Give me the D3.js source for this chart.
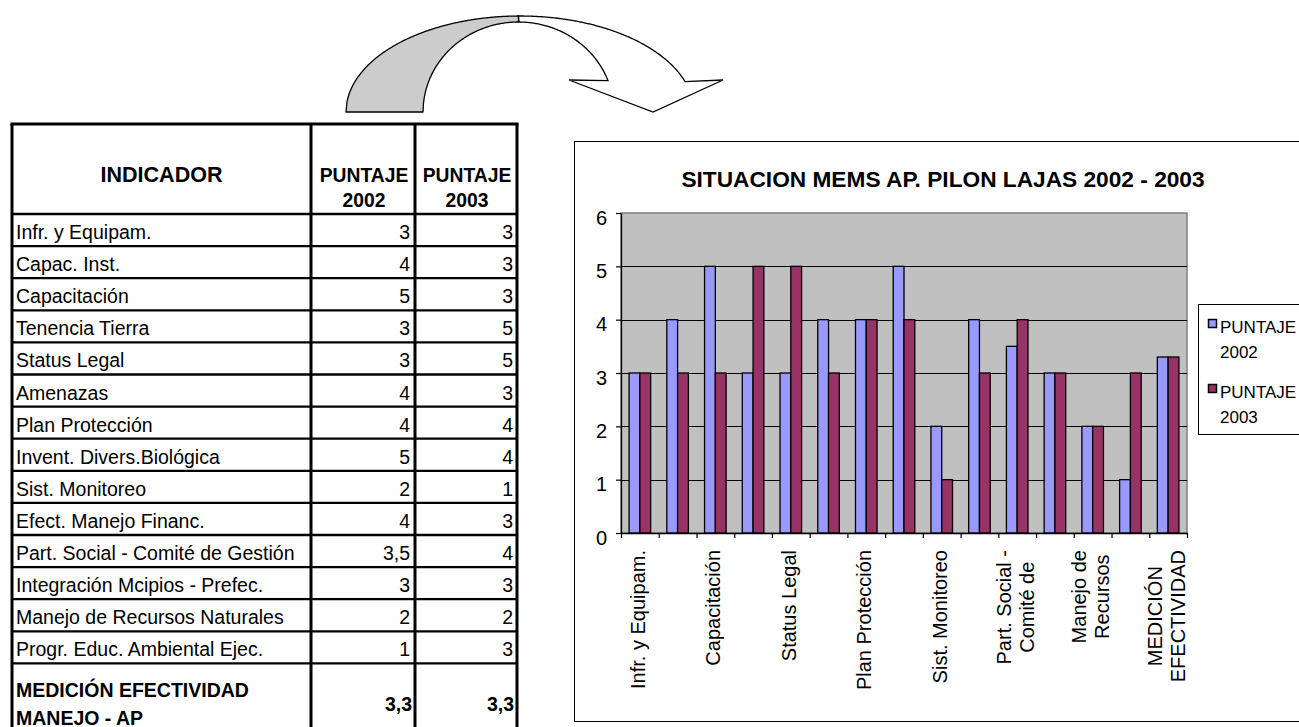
<!DOCTYPE html>
<html>
<head>
<meta charset="utf-8">
<script src="https://cdn.jsdelivr.net/npm/d3@7"></script>
<style>
  html, body { margin: 0; padding: 0; background: #ffffff; }
  svg { display: block; font-family: "Liberation Sans", Arial, sans-serif; }
</style>
</head>
<body>
<svg id="chart" width="1299" height="727"></svg>
<script>
// ---------------- DATA ----------------
const categories = [
  "Infr. y Equipam.",
  "Capac. Inst.",
  "Capacitación",
  "Tenencia Tierra",
  "Status Legal",
  "Amenazas",
  "Plan Protección",
  "Invent. Divers.Biológica",
  "Sist. Monitoreo",
  "Efect. Manejo Financ.",
  "Part. Social - Comité de Gestión",
  "Integración Mcipios - Prefec.",
  "Manejo de Recursos Naturales",
  "Progr. Educ. Ambiental Ejec.",
  "MEDICIÓN EFECTIVIDAD MANEJO - AP"
];
const values2002 = [3, 4, 5, 3, 3, 4, 4, 5, 2, 4, 3.5, 3, 2, 1, 3.3];
const values2003 = [3, 3, 3, 5, 5, 3, 4, 4, 1, 3, 4, 3, 2, 3, 3.3];
const seriesNames = ["PUNTAJE 2002", "PUNTAJE 2003"];
const legendLines = [["PUNTAJE", "2002"], ["PUNTAJE", "2003"]];
const yTicks = [0, 1, 2, 3, 4, 5, 6];
// category axis labels as Excel shows them (every other category, wrapped/cut)
const tickLabels = [
  ["Infr. y Equipam."], [], ["Capacitación"], [], ["Status Legal"], [],
  ["Plan Protección"], [], ["Sist. Monitoreo"], [], ["Part. Social -", "Comité de"], [],
  ["Manejo de", "Recursos"], [], ["MEDICIÓN", "EFECTIVIDAD"]
];
const tableHeader = ["INDICADOR", ["PUNTAJE", "2002"], ["PUNTAJE", "2003"]];
const summaryLines = ["MEDICIÓN EFECTIVIDAD", "MANEJO - AP"];
const chartTitle = "SITUACION MEMS AP. PILON LAJAS 2002 - 2003";

// ---------------- SETUP ----------------
const svg = d3.select("#chart");
const FONT = '"Liberation Sans", Arial, sans-serif';
const fmt = v => String(v).replace(".", ",");

// ---------------- CURVED ARROW ----------------
(function drawArrow() {
  const outer = {cx: 520, cy: 112, rx: 174, ry: 96};
  const inner = {cx: 518.5, cy: 112, rx: 95.5, ry: 90};
  const ptOuter = x => [x, outer.cy - outer.ry * Math.sqrt(Math.max(0, 1 - ((x - outer.cx) / outer.rx) ** 2))];
  const ptInner = x => [x, inner.cy - inner.ry * Math.sqrt(Math.max(0, 1 - ((x - inner.cx) / inner.rx) ** 2))];
  const split = 518.5;
  const g = [];
  for (let x = outer.cx - outer.rx; x <= split; x += 1) g.push(ptOuter(x));
  g.push(ptOuter(split));
  for (let x = split; x >= inner.cx - inner.rx; x -= 1) g.push(ptInner(x));
  g.push([inner.cx - inner.rx, inner.cy]);
  svg.append("path")
    .attr("d", d3.line()(g) + "Z")
    .attr("fill", "#cccccc").attr("stroke", "#000").attr("stroke-width", 1.3)
    .attr("stroke-linejoin", "round");
  const w = [];
  for (let x = split; x <= 685; x += 1) w.push(ptOuter(x));
  w.push(ptOuter(685));
  w.push([723, 80]);
  w.push([653, 112]);
  w.push([569, 80]);
  w.push(ptInner(608));
  for (let x = 608; x >= split; x -= 1) w.push(ptInner(x));
  svg.append("path")
    .attr("d", d3.line()(w) + "Z")
    .attr("fill", "#ffffff").attr("stroke", "#000").attr("stroke-width", 1.3)
    .attr("stroke-linejoin", "miter");
})();

// ---------------- TABLE ----------------
(function drawTable() {
  const L = 12, C1 = 311, C2 = 415, R = 517, TOP = 124, HB = 214, RH = 32.1, BOT = 760;
  const tg = svg.append("g");
  const nRows = categories.length - 1;
  tg.append("text").attr("x", (L + C1) / 2).attr("y", 182)
    .attr("text-anchor", "middle").attr("font-weight", "bold").attr("font-size", 21.5)
    .text(tableHeader[0]);
  [[C1, C2], [C2, R]].forEach((c, i) => {
    const lines = tableHeader[i + 1];
    lines.forEach((t, j) => {
      tg.append("text").attr("x", (c[0] + c[1]) / 2 + 1).attr("y", 182 + j * 25)
        .attr("text-anchor", "middle").attr("font-weight", "bold").attr("font-size", 19.3)
        .text(t);
    });
  });
  for (let i = 0; i < nRows; i++) {
    const y0 = HB + i * RH;
    tg.append("text").attr("x", 16).attr("y", y0 + 25).attr("font-size", 19.5).text(categories[i]);
    tg.append("text").attr("x", C2 - 5).attr("y", y0 + 25).attr("font-size", 19.5)
      .attr("text-anchor", "end").text(fmt(values2002[i]));
    tg.append("text").attr("x", R - 4).attr("y", y0 + 25).attr("font-size", 19.5)
      .attr("text-anchor", "end").text(fmt(values2003[i]));
  }
  const last = categories.length - 1;
  summaryLines.forEach((t, j) => {
    tg.append("text").attr("x", 16).attr("y", 697 + j * 27.5).attr("font-size", 19.5)
      .attr("font-weight", "bold").text(t);
  });
  tg.append("text").attr("x", C2 - 3).attr("y", 711).attr("font-size", 19.5).attr("font-weight", "bold")
    .attr("text-anchor", "end").text(fmt(values2002[last]));
  tg.append("text").attr("x", R - 3).attr("y", 711).attr("font-size", 19.5).attr("font-weight", "bold")
    .attr("text-anchor", "end").text(fmt(values2003[last]));
  for (let i = 0; i <= nRows; i++) {
    const y = HB + i * RH;
    tg.append("line").attr("x1", L).attr("x2", R).attr("y1", y).attr("y2", y)
      .attr("stroke", "#000").attr("stroke-width", 2.3);
  }
  tg.append("line").attr("x1", L - 1.5).attr("x2", R + 1.5).attr("y1", TOP).attr("y2", TOP)
    .attr("stroke", "#000").attr("stroke-width", 3);
  [L, C1, C2, R].forEach(x => {
    tg.append("line").attr("x1", x).attr("x2", x).attr("y1", TOP).attr("y2", BOT)
      .attr("stroke", "#000").attr("stroke-width", 3);
  });
})();

// ---------------- CHART ----------------
const plot = {left: 621, right: 1187, top: 213, bottom: 533};

svg.append("rect").attr("x", 574.5).attr("y", 141.5).attr("width", 800).attr("height", 580)
  .attr("fill", "#fff").attr("stroke", "#000").attr("stroke-width", 1);

svg.append("text").attr("x", 943).attr("y", 187).attr("text-anchor", "middle")
  .attr("font-weight", "bold").attr("font-size", 22.7).text(chartTitle);

const x = d3.scaleBand().domain(categories).range([plot.left, plot.right]).paddingInner(0).paddingOuter(0);
const xSub = d3.scaleBand().domain(seriesNames).range([0, x.bandwidth()]).paddingInner(0).paddingOuter(0.75);
const y = d3.scaleLinear().domain([0, 6]).range([plot.bottom, plot.top]);
const xIdx = d3.scaleLinear().domain([0, categories.length]).range([plot.left, plot.right]);

svg.append("rect").attr("x", plot.left).attr("y", plot.top)
  .attr("width", plot.right - plot.left).attr("height", plot.bottom - plot.top)
  .attr("fill", "#c0c0c0").attr("stroke", "#808080").attr("stroke-width", 1.5);

svg.append("g").selectAll("line").data(yTicks.filter(t => t > 0 && t < 6)).join("line")
  .attr("x1", plot.left).attr("x2", plot.right)
  .attr("y1", d => Math.round(y(d)) + 0.5).attr("y2", d => Math.round(y(d)) + 0.5)
  .attr("stroke", "#000").attr("stroke-width", 1.2);

const barData = categories.map((c, i) => ({c, vals: [values2002[i], values2003[i]]}));
const colors = {"PUNTAJE 2002": "#9999ff", "PUNTAJE 2003": "#993366"};
const groups = svg.append("g").selectAll("g").data(barData).join("g")
  .attr("transform", d => `translate(${x(d.c)},0)`);
groups.selectAll("rect").data(d => seriesNames.map((s, k) => ({s, v: d.vals[k]}))).join("rect")
  .attr("x", d => xSub(d.s))
  .attr("width", xSub.bandwidth())
  .attr("y", d => y(d.v))
  .attr("height", d => y(0) - y(d.v))
  .attr("fill", d => colors[d.s])
  .attr("stroke", "#000").attr("stroke-width", 1.3);

const yAxis = svg.append("g").attr("transform", `translate(${plot.left},0)`)
  .call(d3.axisLeft(y).tickValues(yTicks).tickFormat(d3.format("d")).tickSize(5).tickSizeOuter(0).tickPadding(9));
yAxis.select(".domain").attr("stroke", "#000").attr("stroke-width", 1.3);
yAxis.selectAll(".tick line").attr("stroke", "#000").attr("stroke-width", 1.2);
yAxis.selectAll(".tick text").attr("font-family", FONT).attr("font-size", 20).attr("fill", "#000")
  .attr("dy", "0.55em");

const xAxis = svg.append("g").attr("transform", `translate(0,${plot.bottom})`)
  .call(d3.axisBottom(xIdx).tickValues(d3.range(categories.length + 1)).tickSize(5).tickSizeOuter(0).tickFormat(""));
xAxis.select(".domain").attr("stroke", "#000").attr("stroke-width", 1.3);
xAxis.selectAll(".tick line").attr("stroke", "#000").attr("stroke-width", 1.2);

const LH = 23, FS = 20;
tickLabels.forEach((lines, i) => {
  if (!lines.length) return;
  const cx = x(categories[i]) + x.bandwidth() / 2;
  const g = svg.append("g").attr("transform", `translate(${cx},550) rotate(-90)`);
  const texts = lines.map((t, j) => g.append("text")
    .attr("text-anchor", "middle").attr("font-size", FS)
    .attr("y", 5 + (j - (lines.length - 1) / 2) * LH).text(t));
  const maxLen = d3.max(texts, t => t.node().getComputedTextLength());
  texts.forEach(t => t.attr("x", -maxLen / 2));
});

svg.append("rect").attr("x", 1198.5).attr("y", 304.5).attr("width", 200).attr("height", 130)
  .attr("fill", "#fff").attr("stroke", "#000").attr("stroke-width", 1);
seriesNames.forEach((s, k) => {
  const y0 = 333 + k * 65;
  svg.append("rect").attr("x", 1208.5).attr("y", y0 - 13.5).attr("width", 8).attr("height", 8)
    .attr("fill", colors[s]).attr("stroke", "#000").attr("stroke-width", 1.5);
  legendLines[k].forEach((t, j) => {
    svg.append("text").attr("x", 1220).attr("y", y0 + j * 25).attr("font-size", 17).text(t);
  });
});
</script>
</body>
</html>
